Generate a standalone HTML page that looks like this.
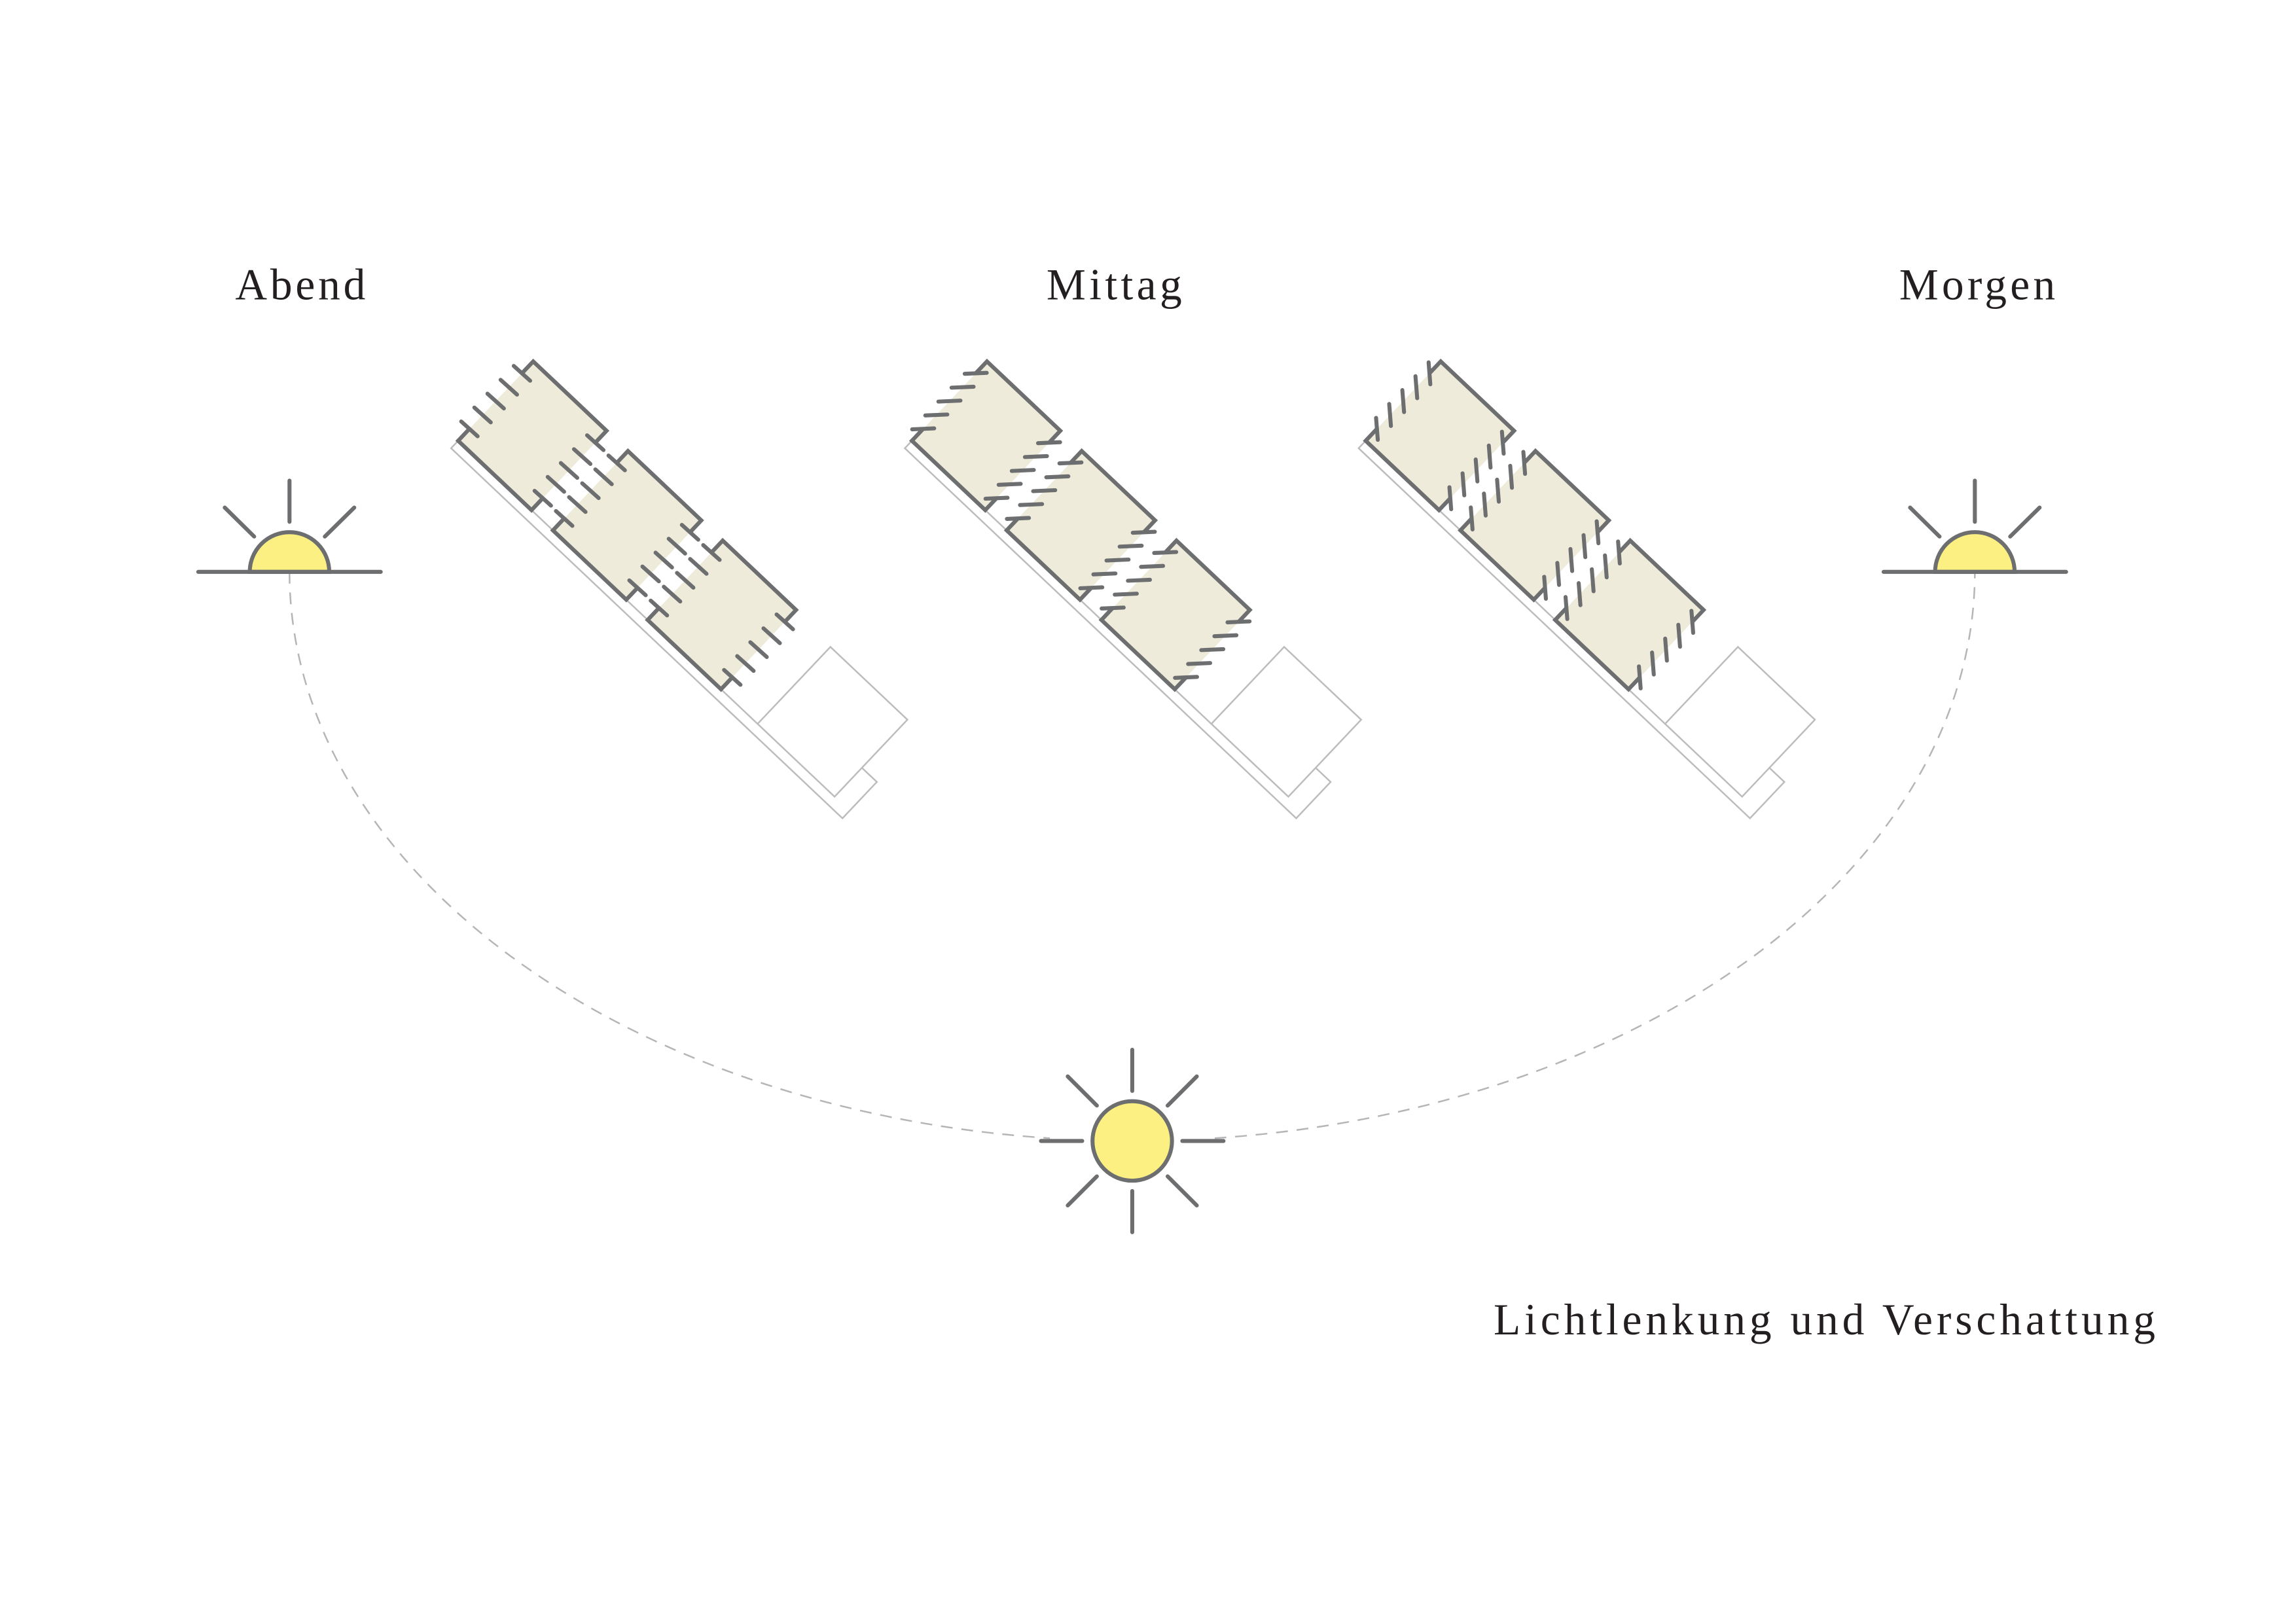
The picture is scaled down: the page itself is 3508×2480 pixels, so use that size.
<!DOCTYPE html>
<html><head><meta charset="utf-8"><style>
html,body{margin:0;padding:0;background:#fff;}
svg{display:block;}
text{font-family:"Liberation Serif",serif;fill:#231f20;}
</style></head><body>
<svg id="fig" width="3508" height="2480" viewBox="0 0 1560 1102.86" preserveAspectRatio="none" xmlns="http://www.w3.org/2000/svg">
<rect width="1560" height="1103" fill="#fff"/>
<text x="159.8" y="203.5" font-size="30" textLength="88.5" lengthAdjust="spacing">Abend</text>
<text x="711" y="203.5" font-size="30" textLength="92" lengthAdjust="spacing">Mittag</text>
<text x="1290.4" y="203.5" font-size="30" textLength="106" lengthAdjust="spacing">Morgen</text>
<text x="1014.8" y="906.7" font-size="30" textLength="449.6" lengthAdjust="spacing">Lichtlenkung und Verschattung</text>
<path d="M196.7,388.6 A572.6 386.7 0 0 0 769.3 775.3" fill="none" stroke="#b5b5b5" stroke-width="1.1" stroke-dasharray="8,6"/>
<path d="M769.3,775.3 A572.5 386.7 0 0 0 1341.8 388.6" fill="none" stroke="#b5b5b5" stroke-width="1.1" stroke-dasharray="8,6"/>
<circle cx="769.3" cy="775.3" r="56" fill="#fff"/>
<g id="groups"></g>
<g id="suns"></g>
</svg>
<script>
const NS='http://www.w3.org/2000/svg';
const groupNames=['abend','mittag','morgen'];
const tickAngles=[42,-2.5,85.5];
const tickFractions=[0.15,0.325,0.5,0.675,0.85];
const blockCount=3;
const GREY='#6d6e70';
function mk(tag,attrs,parent){const e=document.createElementNS(NS,tag);for(const k in attrs)e.setAttribute(k,attrs[k]);parent.appendChild(e);return e;}
const groupsEl=document.getElementById('groups');
const ROT=43.4,W=68.6,H=74.2,P=88.6,S=11.1,TL=15;
groupNames.forEach((nm,gi)=>{
  const g=mk('g',{transform:`translate(${311.3+gi*308.3},299.5) rotate(${ROT})`},groupsEl);
  
  
  const thin={fill:'none',stroke:'#bcbcbc','stroke-width':1.1};
  const st=mk('path',Object.assign({d:'M0,0 L280,0 M0,0 L0,7 L366,7 L366,-27 L352,-27'},thin),g);
  
  
  const sq=mk('rect',{x:280,y:-72,width:72,height:72,fill:'#fff',stroke:'#bcbcbc','stroke-width':1.1},g);
  
  
  for(let b=0;b<blockCount;b++){
    const x0=b*P;
    const r=mk('rect',{x:x0,y:-H,width:W,height:H,fill:'#efebda'},g);
    
    
    const o=mk('path',{d:`M${x0},${-H+S} L${x0},${-H} L${x0+W},${-H} L${x0+W},${-H+S} M${x0},${-S} L${x0},0 L${x0+W},0 L${x0+W},${-S}`,fill:'none',stroke:GREY,'stroke-width':2.7,'stroke-linejoin':'miter'},g);
    
    
    [x0,x0+W].forEach(xs=>{
      tickFractions.forEach(f=>{
        const y=-H+f*H;
        const a=(tickAngles[gi]-ROT)*Math.PI/180;
        const dx=Math.cos(a)*TL/2,dy=Math.sin(a)*TL/2;
        const t=mk('line',{x1:xs-dx,y1:y-dy,x2:xs+dx,y2:y+dy,stroke:GREY,'stroke-width':2.7,'stroke-linecap':'round'},g);
        
        
      });
    });
  }
});
const suns=document.getElementById('suns');
const rayStyle={stroke:GREY,'stroke-width':2.7,'stroke-linecap':'round'};
[[196.7,'sun-evening'],[1341.8,'sun-morning']].forEach(([cx,nm])=>{
  const cy=388.6,r=27;
  const g=mk('g',{},suns);
  
  
  mk('path',{d:`M${cx-r},${cy} A${r} ${r} 0 0 1 ${cx+r} ${cy} Z`,fill:'#fbf081',stroke:GREY,'stroke-width':2.7},g);
  mk('line',Object.assign({x1:cx-62,y1:cy,x2:cx+62,y2:cy},rayStyle),g);
  mk('line',Object.assign({x1:cx,y1:cy-62,x2:cx,y2:cy-34},rayStyle),g);
  mk('line',Object.assign({x1:cx-44,y1:cy-43.7,x2:cx-24,y2:cy-24},rayStyle),g);
  mk('line',Object.assign({x1:cx+44,y1:cy-43.7,x2:cx+24,y2:cy-24},rayStyle),g);
});
(function(){
  const cx=769.3,cy=775.3;
  const g=mk('g',{},suns);
  
  
  for(let k=0;k<8;k++){
    const a=k*Math.PI/4;
    mk('line',Object.assign({x1:cx+Math.cos(a)*34,y1:cy+Math.sin(a)*34,x2:cx+Math.cos(a)*62,y2:cy+Math.sin(a)*62},rayStyle),g);
  }
  mk('circle',{cx:cx,cy:cy,r:27,fill:'#fbf081',stroke:GREY,'stroke-width':2.7},g);
})();
</script>
</body></html>
